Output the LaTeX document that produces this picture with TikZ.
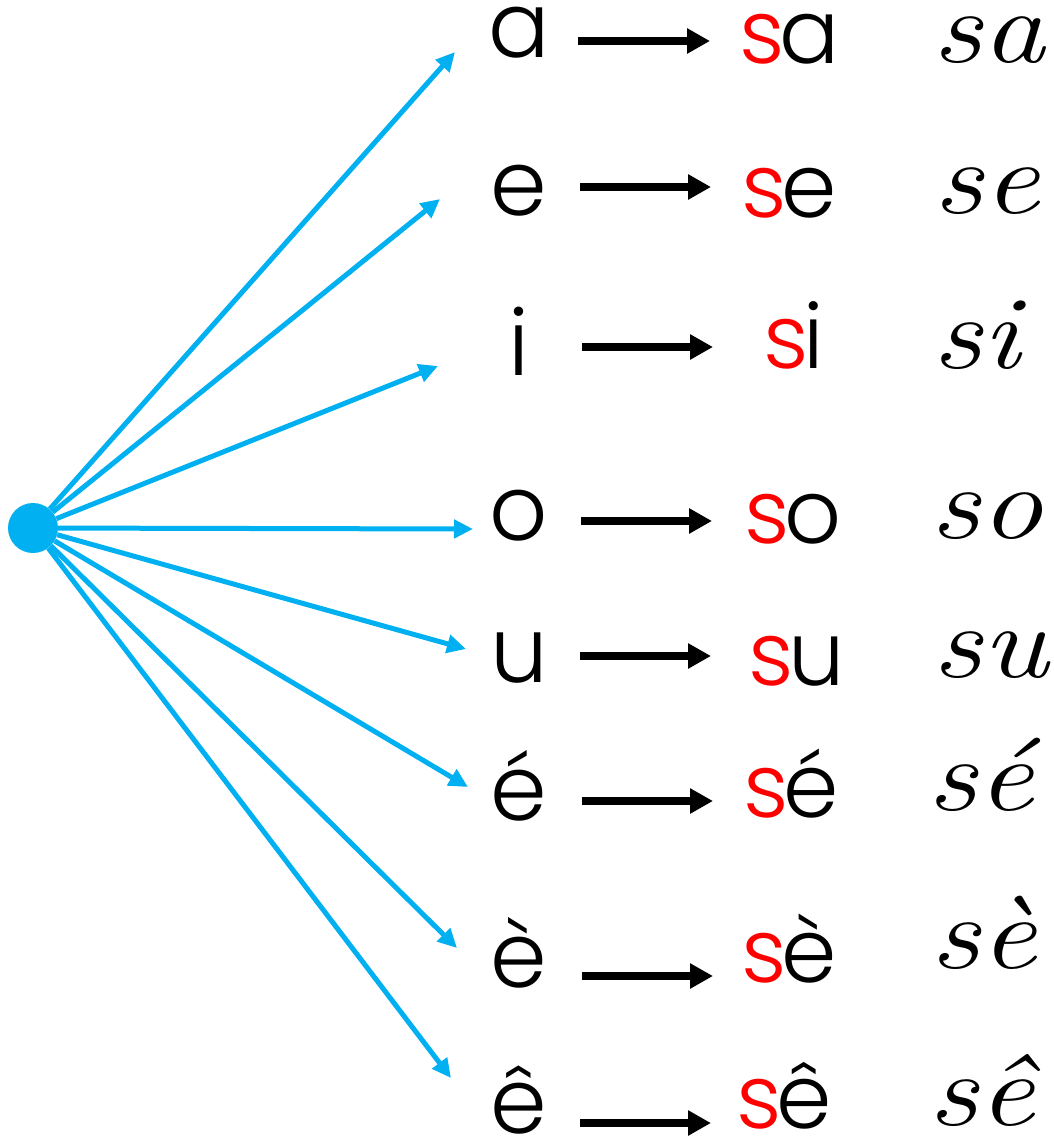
\documentclass[tikz,border=0pt]{standalone}
\usepackage{fontspec}
\usetikzlibrary{arrows.meta}
\newfontfamily\geo{Poppins Light}
\definecolor{skyb}{HTML}{00B0F0}
\definecolor{redS}{HTML}{FF0000}
\tikzset{
  letter/.style={inner sep=0pt, anchor=base, font=\geo\fontsize{91}{91}\selectfont},
  syll/.style={inner sep=0pt, anchor=base west, font=\geo\fontsize{89}{89}\selectfont},
  cursive/.style={inner sep=0pt, anchor=base west, font=\itshape\fontsize{104}{104}\selectfont},
  bluearrow/.style={draw=skyb, line width=5pt, -{Triangle[length=19pt,width=18pt]}},
  blackarrow/.style={draw=black, line width=8.5pt, -{Triangle[length=23pt,width=24pt]}},
  hub/.style={circle, fill=skyb, minimum size=50pt, inner sep=0pt}
}
\begin{document}
\begin{tikzpicture}[x=1pt,y=-1pt]
\useasboundingbox (0,0) rectangle (1054,1138);
\node[hub] (dot) at (33,528) {};
\foreach \n/\L/\bo/\ay/\xa/\xb/\sx/\bt/\cx/\bc/\tx/\ty in {
  1/a/57/41/578/710/739/63/932/62/455/52,
  2/e/215/187/580/711/741/217/933/213/440/199,
  3/i/375/347/582/713/763/368/932/368/438/366,
  4/o/540/521/581/712/744/543/930/538/473/529,
  5/u/682/656/580/711/748/685/932/677/466/649,
  6/é/820/801/582/713/743/817/927/810/468/787,
  7/è/987/976/582/713/741/982/930/968/457/948,
  8/ê/1133/1123/580/711/736/1128/928/1125/451/1078}{
  \node[letter] (l\n) at (519,\bo) {\L};
  \node[syll] (s\n) at (\sx,\bt) {\textcolor{redS}{s}\kern-5pt\L};
  \node[cursive] (c\n) at (\cx,\bc) {\scalebox{1.2}[1]{s\L}};
  \coordinate (as\n) at (\xa,\ay);
  \coordinate (ae\n) at (\xb,\ay);
  \coordinate (tip\n) at (\tx,\ty);
  \draw[blackarrow] (as\n) -- (ae\n);
  \draw[bluearrow] (dot) -- (tip\n);
}
\end{tikzpicture}
\end{document}
